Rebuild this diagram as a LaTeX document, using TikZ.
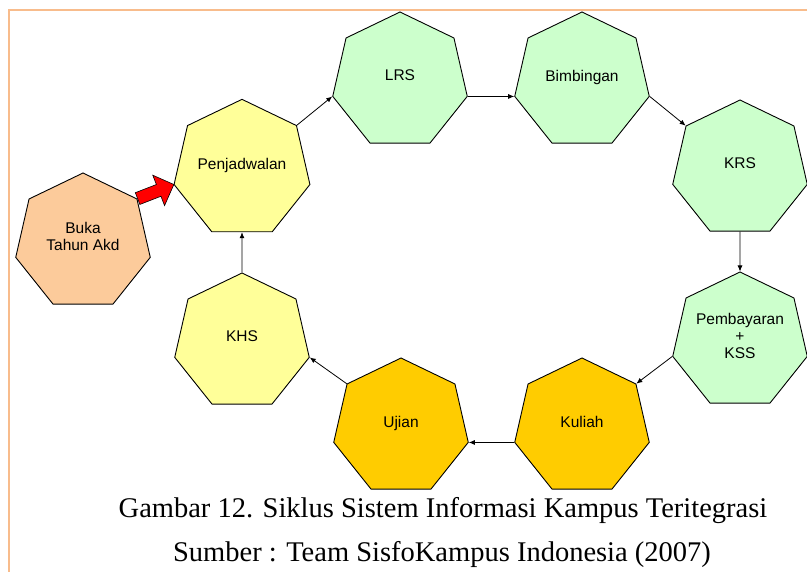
\documentclass[tikz,border=0pt]{standalone}
\usepackage{fontspec}
\setmainfont{Liberation Serif}
\setsansfont{Liberation Sans}
\usetikzlibrary{shapes.geometric,shapes.arrows,arrows.meta,calc}

\definecolor{hijau}{HTML}{CCFFCC}
\definecolor{kuning}{HTML}{FFFF99}
\definecolor{emas}{HTML}{FFCC00}
\definecolor{jingga}{HTML}{FCCB9B}
\definecolor{bingkai}{HTML}{F8BC8C}

\tikzset{
  tahap/.style={regular polygon,regular polygon sides=7,minimum size=138pt,
    draw=black,line width=0.9pt,inner sep=0pt,align=center,text depth=11pt,
    font=\sffamily\fontsize{15.5}{17}\selectfont},
  alur/.style={-{Latex[length=6pt,width=5pt]},line width=0.8pt},
  panah/.style={single arrow,draw=black,fill=red,line width=0.6pt,
    inner xsep=0pt,inner ysep=6pt,single arrow head extend=10pt},
  keterangan/.style={anchor=base,font=\fontsize{28.5}{32}\selectfont},
}

\begin{document}
\begin{tikzpicture}[x=1pt,y=-1pt]
\useasboundingbox (0,0) rectangle (807,572);
\draw[bingkai,line width=2.5pt] (9,572) -- (9,10) -- (807,10);

% tahapan siklus
\node[tahap,fill=jingga] (buka) at (83,242) {Buka\\Tahun Akd};
\node[tahap,fill=kuning] (jadwal) at (242,169) {Penjadwalan};
\node[tahap,fill=hijau] (lrs) at (400,81) {LRS};
\node[tahap,fill=hijau] (bimbingan) at (582,81) {Bimbingan};
\node[tahap,fill=hijau] (krs) at (740,169) {KRS};
\node[tahap,fill=hijau] (bayar) at (740,341) {Pembayaran\\+\\KSS};
\node[tahap,fill=emas] (kuliah) at (582,427) {Kuliah};
\node[tahap,fill=emas] (ujian) at (401,427) {Ujian};
\node[tahap,fill=kuning] (khs) at (242,342) {KHS};

% alur
\draw[alur] (jadwal.corner 7) -- (lrs.corner 3);
\draw[alur] (lrs.corner 6) -- (bimbingan.corner 3);
\draw[alur] (bimbingan.corner 6) -- (krs.corner 2);
\draw[alur] (krs.south) -- (bayar.corner 1);
\draw[alur] (bayar.corner 3) -- (kuliah.corner 7);
\draw[alur] (kuliah.corner 3) -- (ujian.corner 6);
\draw[alur] (ujian.corner 2) -- (khs.corner 6);
\draw[alur] (khs.corner 1) -- (jadwal.south);

% panah merah
\path let \p1=($(jadwal.corner 3)-(buka.corner 7)$),
  \n1={veclen(\x1,\y1)}, \n2={atan2(\y1,\x1)} in
  node[panah,minimum height=\n1,rotate=\n2,anchor=tail] (mulai) at (buka.corner 7) {};

\node[keterangan] (judul) at (443,517) {Gambar 12. Siklus Sistem Informasi Kampus Teritegrasi};
\node[keterangan] (sumber) at (442,561) {Sumber : Team SisfoKampus Indonesia (2007)};
\end{tikzpicture}
\end{document}
